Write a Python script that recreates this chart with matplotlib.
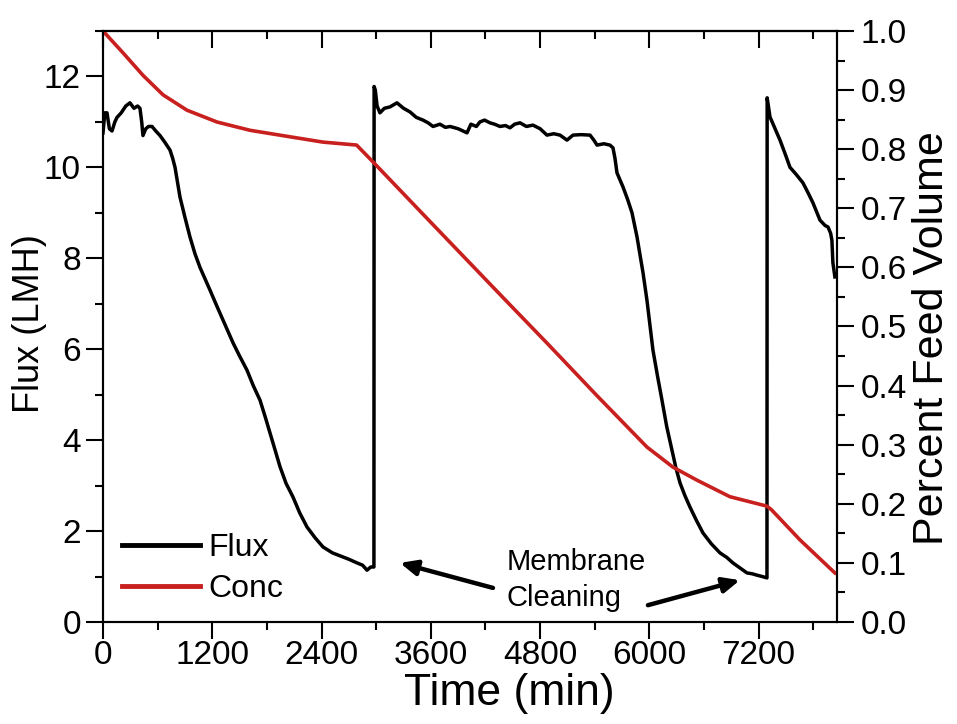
import matplotlib
matplotlib.use("Agg")
import matplotlib.pyplot as plt
from matplotlib.ticker import MultipleLocator, FixedLocator

plt.rcParams['font.family'] = ['Liberation Sans', 'DejaVu Sans']

# ---------------- data ----------------
flux_time = [0, 20, 44, 70, 99, 130, 154, 200, 250, 296, 340, 380, 406, 425, 439, 470, 500,
             538, 580, 626, 680, 736, 765, 791, 820, 845, 900, 955, 1010, 1065, 1120, 1175,
             1250, 1318, 1370, 1428, 1500, 1581, 1650, 1724, 1780, 1834, 1890, 1943, 2010,
             2086, 2160, 2240, 2330, 2416, 2520, 2635, 2700, 2789, 2850, 2899, 2940, 2975,
             2977, 2990, 3010, 3041, 3090, 3151, 3228, 3300, 3371, 3440, 3514, 3570, 3624,
             3700, 3760, 3811, 3900, 3997, 4040, 4100, 4139, 4190, 4249, 4300, 4359, 4420,
             4469, 4520, 4579, 4650, 4721, 4800, 4875, 4950, 5018, 5095, 5161, 5250, 5348,
             5390, 5425, 5500, 5567, 5600, 5622, 5644, 5710, 5760, 5809, 5864, 5930, 5973,
             6039, 6090, 6138, 6190, 6248, 6290, 6336, 6390, 6445, 6520, 6588, 6680, 6775,
             6850, 6917, 7000, 7071, 7130, 7181, 7240, 7291, 7293, 7324, 7380, 7434, 7490,
             7544, 7610, 7686, 7740, 7796, 7840, 7873, 7930, 7961, 7990, 8004, 8015, 8037]
flux_value = [10.76, 11.20, 11.20, 10.85, 10.80, 11.00, 11.10, 11.20, 11.35, 11.42, 11.30,
              11.35, 11.30, 11.00, 10.70, 10.85, 10.90, 10.90, 10.80, 10.70, 10.55, 10.38,
              10.20, 10.00, 9.65, 9.35, 8.90, 8.47, 8.10, 7.80, 7.55, 7.30, 6.95, 6.64,
              6.40, 6.14, 5.85, 5.54, 5.20, 4.88, 4.52, 4.16, 3.78, 3.42, 3.05, 2.75, 2.40,
              2.09, 1.85, 1.65, 1.52, 1.43, 1.38, 1.30, 1.25, 1.14, 1.21, 1.21, 11.78,
              11.70, 11.35, 11.20, 11.30, 11.33, 11.42, 11.30, 11.22, 11.10, 11.04, 10.98,
              10.90, 10.95, 10.88, 10.90, 10.85, 10.76, 10.95, 10.90, 11.00, 11.04, 10.98,
              10.95, 10.90, 10.92, 10.87, 10.95, 10.98, 10.90, 10.93, 10.85, 10.71, 10.74,
              10.71, 10.60, 10.71, 10.72, 10.71, 10.60, 10.49, 10.52, 10.49, 10.43, 10.20,
              9.88, 9.57, 9.30, 9.00, 8.47, 7.68, 7.08, 5.98, 5.40, 4.88, 4.30, 3.78, 3.40,
              3.06, 2.78, 2.53, 2.22, 1.96, 1.72, 1.52, 1.42, 1.30, 1.18, 1.08, 1.06, 1.03,
              1.00, 0.97, 11.53, 11.11, 10.85, 10.60, 10.30, 10.00, 9.85, 9.66, 9.45, 9.22,
              9.00, 8.84, 8.72, 8.69, 8.55, 8.40, 7.90, 7.59]

conc_time = [0, 220, 439, 659, 922, 1252, 1614, 2053, 2416, 2785, 2968, 3514, 4249, 4436,
             4875, 5424, 5973, 6259, 6522, 6884, 7291, 7340, 7653, 8037]
conc_value = [1.000, 0.963, 0.925, 0.892, 0.866, 0.846, 0.832, 0.821, 0.812, 0.807, 0.778,
              0.690, 0.572, 0.542, 0.472, 0.383, 0.296, 0.262, 0.240, 0.212, 0.196, 0.190,
              0.139, 0.083]

x_ticks = [0, 1200, 2400, 3600, 4800, 6000, 7200]
series_labels = ["Flux", "Conc"]

# ---------------- figure ----------------
fig = plt.figure(figsize=(9.57, 7.24), dpi=100)
ax = fig.add_axes([103/957, 1 - 622/724, (837-103)/957, (622-31)/724])
ax2 = ax.twinx()

black = '#000000'
red = '#C8201E'

l1, = ax.plot(flux_time, flux_value, color=black, lw=2.5, label=series_labels[0], zorder=3)
l2, = ax2.plot(conc_time, conc_value, color=red, lw=2.6, label=series_labels[1], zorder=2)

ax.set_xlim(0, 8060)
ax.set_ylim(0, 13)
ax2.set_ylim(0, 1.0)

ax.xaxis.set_major_locator(FixedLocator(x_ticks))
ax.xaxis.set_minor_locator(MultipleLocator(600))
ax.yaxis.set_major_locator(MultipleLocator(2))
ax.yaxis.set_minor_locator(MultipleLocator(1))
ax2.yaxis.set_major_locator(MultipleLocator(0.1))
ax2.yaxis.set_minor_locator(MultipleLocator(0.05))
ax2.yaxis.set_major_formatter(matplotlib.ticker.FormatStrFormatter('%.1f'))

tick_fs = 24
ax.tick_params(axis='both', which='major', direction='out', length=12, width=1.5,
               labelsize=tick_fs, pad=1)
ax.tick_params(axis='both', which='minor', direction='out', length=6, width=1.5)
ax.tick_params(axis='y', which='major', pad=4)
ax2.tick_params(axis='y', which='major', direction='out', length=12, width=1.5,
                labelsize=tick_fs, pad=5)
ax2.tick_params(axis='y', which='minor', direction='out', length=6, width=1.5)

# top ticks pointing inward
top = ax.secondary_xaxis('top')
top.xaxis.set_major_locator(FixedLocator(x_ticks))
top.xaxis.set_minor_locator(MultipleLocator(600))
top.tick_params(axis='x', which='major', direction='in', length=12, width=1.5, labeltop=False)
top.tick_params(axis='x', which='minor', direction='in', length=6, width=1.5)
top.spines['top'].set_linewidth(1.5)

for a in (ax, ax2):
    for s in a.spines.values():
        s.set_linewidth(1.5)

ax.set_ylabel("Flux (LMH)", fontsize=26)
ax.yaxis.label.set_verticalalignment('center')
ax.yaxis.set_label_coords((30 - 103) / 734, 0.505)

ax2.set_ylabel("Percent Feed Volume", fontsize=31)
ax2.yaxis.label.set_verticalalignment('center')
ax2.yaxis.set_label_coords((932 - 103) / 734, 0.48)

ax.set_xlabel("Time (min)", fontsize=32)
ax.xaxis.label.set_verticalalignment('center')
ax.xaxis.set_label_coords(0.553, -(694 - 622) / 591)

leg = ax.legend(handles=[l1, l2], loc='upper left', bbox_to_anchor=(0.026, 0.150),
                frameon=False, fontsize=23, handlelength=2.45, handletextpad=0.25,
                labelspacing=0.34, borderpad=0, borderaxespad=0)
for h in leg.legend_handles:
    h.set_linewidth(3.5)

# annotation
ax.text(4435, 1.32, "Membrane", fontsize=21, ha='left', va='center')
ax.text(4435, 0.53, "Cleaning", fontsize=21, ha='left', va='center')
arrow_kw = dict(arrowstyle='-|>,head_length=1.0,head_width=0.45', lw=3.2, color='black',
                shrinkA=0, shrinkB=0)
ax.annotate("", xy=(3261, 1.30), xytext=(4282, 0.75), arrowprops=arrow_kw)
ax.annotate("", xy=(6994, 0.92), xytext=(5984, 0.37), arrowprops=arrow_kw)

fig.savefig("out.png", dpi=100)
